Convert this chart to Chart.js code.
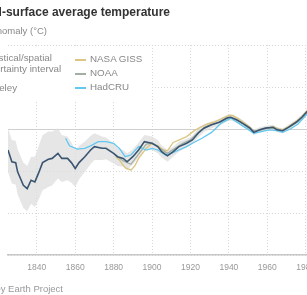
<!DOCTYPE html>
<html>
<head>
<meta charset="utf-8">
<script src="https://cdn.jsdelivr.net/npm/chart.js@4/dist/chart.umd.min.js"></script>
<style>
  body { margin:0; width:307px; height:295px; overflow:hidden; background:#fff; position:relative;
         font-family:"Liberation Sans", Arial, sans-serif; }
  .txt { position:absolute; white-space:nowrap; }
  #title { right:137px; top:5px; font-size:12px; font-weight:bold; color:#333; }
  #subtitle { right:260px; top:25px; font-size:9.5px; color:#888; }
  #source { right:244px; top:283px; font-size:9.5px; color:#999; }
  #wrap { position:absolute; left:0; top:0; width:400px; height:295px; }
  #legend { position:absolute; left:0; top:47px; width:152px; height:54px; background:#fff; font-size:9.8px; color:#888; }
  .item { position:absolute; white-space:nowrap; line-height:10.5px; }
  .sw { position:absolute; height:2px; width:11px; }
</style>
</head>
<body>
<div id="wrap"><canvas id="chart"></canvas></div>
<div class="txt" id="title">Land-surface average temperature</div>
<div class="txt" id="subtitle">Temperature anomaly (°C)</div>
<div id="legend"></div>
<div class="txt" id="source">Source: Berkeley Earth Project</div>
<script>
// Berkeley Earth (10-yr smoothed land anomaly) and its uncertainty half-width
const berkeleyYears = [1825,1827,1829,1830,1833,1835,1837,1839,1841,1843,1846,1848,1851,1853,1856,1858,1860,1862,1865,1868,1870,1874,1876,1880,1882,1885,1887,1890,1893,1896,1900,1903,1905,1908,1911,1914,1918,1921,1924,1927,1931,1935,1939,1941,1944,1947,1951,1953,1956,1959,1963,1965,1968,1971,1975,1978,1980,1984,1988];
const berkeleyTemp = [-0.25,-0.39,-0.40,-0.51,-0.67,-0.71,-0.61,-0.63,-0.52,-0.40,-0.36,-0.35,-0.29,-0.35,-0.35,-0.40,-0.47,-0.40,-0.33,-0.25,-0.21,-0.23,-0.23,-0.29,-0.33,-0.35,-0.39,-0.33,-0.25,-0.15,-0.17,-0.21,-0.27,-0.32,-0.27,-0.21,-0.17,-0.13,-0.05,0.01,0.05,0.08,0.13,0.14,0.11,0.07,0.01,-0.04,-0.01,0.01,0.02,-0.01,-0.02,0.02,0.08,0.14,0.19,0.28,0.35];
const berkeleyUnc = [.26,.26,.26,.27,.27,.27,.28,.3,.32,.33,.33,.32,.3,.28,.26,.24,.22,.2,.18,.17,.16,.14,.13,.12,.11,.1,.1,.09,.09,.08,.08,.08,.07,.07,.06,.06,.05,.05,.05,.05,.04,.04,.04,.04,.04,.04,.03,.03,.03,.03,.03,.03,.03,.03,.03,.03,.03,.03,.03];

const nasaYears = [1881,1883,1886,1889,1891,1893,1897,1900,1903,1906,1908,1911,1915,1918,1922,1925,1929,1932,1936,1940,1942,1945,1948,1951,1953,1956,1960,1963,1966,1968,1971,1975,1978,1980,1984,1988];
const nasaTemp = [-0.33,-0.37,-0.46,-0.49,-0.44,-0.35,-0.23,-0.17,-0.20,-0.25,-0.26,-0.16,-0.12,-0.09,-0.02,0.02,0.06,0.08,0.12,0.16,0.16,0.12,0.07,0.02,-0.03,-0.01,0.01,0.03,0.0,-0.01,0.03,0.09,0.15,0.20,0.28,0.34];

const noaaYears = [1881,1885,1889,1893,1897,1900,1904,1908,1912,1916,1920,1924,1928,1932,1936,1940,1944,1948,1952,1956,1960,1964,1968,1972,1976,1980,1984,1988];
const noaaTemp = [-0.31,-0.38,-0.42,-0.30,-0.18,-0.17,-0.23,-0.29,-0.23,-0.17,-0.13,-0.04,0.03,0.06,0.09,0.14,0.11,0.05,-0.02,-0.02,0.01,0.01,-0.02,0.03,0.09,0.18,0.27,0.34];

const hadYears = [1855,1857,1861,1865,1868,1872,1876,1880,1883,1886,1889,1893,1897,1900,1903,1907,1910,1914,1918,1921,1926,1931,1936,1941,1945,1949,1953,1957,1961,1965,1968,1972,1976,1980,1984,1988];
const hadTemp = [-0.11,-0.20,-0.24,-0.23,-0.20,-0.15,-0.15,-0.17,-0.23,-0.33,-0.31,-0.21,-0.25,-0.23,-0.25,-0.31,-0.29,-0.25,-0.21,-0.17,-0.11,-0.04,0.07,0.13,0.07,0.01,-0.05,-0.03,-0.01,-0.02,-0.04,0.0,0.06,0.16,0.26,0.32];

const yearTicks = [1840,1860,1880,1900,1920,1940,1960,1980,2000,2020];

const BERKELEY = '#3a5570', NASA = '#dcc684', NOAA = '#a4aea4', HAD = '#62c8f0';

function pts(xs, ys) { return xs.map((x, i) => ({x: x, y: ys[i]})); }
// lower "order" draws on top
function line(label, xs, ys, color, w, order) {
    return { label, order, data: pts(xs, ys), borderColor: color, borderWidth: w, pointRadius: 0, tension: 0, fill: false };
}

const upper = berkeleyTemp.map((v, i) => v + berkeleyUnc[i]);
const lower = berkeleyTemp.map((v, i) => v - berkeleyUnc[i]);

new Chart(document.getElementById('chart').getContext('2d'), {
    type: 'line',
    data: {
        datasets: [
            { label: 'upper', order: 10, data: pts(berkeleyYears, upper), borderColor: 'transparent', borderWidth: 1, pointRadius: 0, backgroundColor: 'rgba(222,222,222,0.75)', fill: '+1' },
            { label: 'lower', order: 11, data: pts(berkeleyYears, lower), borderColor: 'transparent', borderWidth: 1, pointRadius: 0, fill: false },
            line('NASA GISS', nasaYears, nasaTemp, NASA, 1.4, 4),
            line('NOAA', noaaYears, noaaTemp, NOAA, 1.3, 3),
            line('HadCRU', hadYears, hadTemp, HAD, 1.3, 2),
            line('Berkeley', berkeleyYears, berkeleyTemp, BERKELEY, 1.6, 1)
        ]
    },
    options: {
        responsive: true,
        maintainAspectRatio: false,
        animation: false,
        layout: { padding: { top: 45, left: 8, right: 0, bottom: 0 } },
        plugins: { legend: { display: false }, title: { display: false }, tooltip: { enabled: false } },
        scales: {
            x: {
                type: 'linear',
                min: 1825,
                max: 2028,
                afterBuildTicks: s => { s.ticks = yearTicks.map(v => ({value: v})); },
                afterFit: s => { s.height = 40; },
                grid: { color: '#d8d8d8', lineWidth: 1, drawTicks: false },
                border: { display: true, color: '#c8c8c8', width: 1.5, dash: [1, 2] },
                ticks: { padding: 8, color: '#999', font: { size: 8.5, family: '"Liberation Sans", Arial, sans-serif' },
                         callback: v => String(v) }
            },
            y: {
                min: -1.5,
                max: 1.0,
                ticks: { display: false, stepSize: 0.5 },
                afterFit: s => { s.width = 0; },
                grid: { color: ctx => ctx.tick && ctx.tick.value === 0 ? '#cfcfcf' : '#d8d8d8', drawTicks: false },
                border: { display: false, dash: ctx => ctx.tick && ctx.tick.value === 0 ? [] : [1, 2] }
            }
        }
    }
});

// legend in two columns over a white box
const legendItems = [
    { text: 'Statistical/spatial<br>uncertainty interval', x: -21, y: 6, swatch: 'band' },
    { text: 'Berkeley', x: -21, y: 36, swatch: BERKELEY },
    { text: 'NASA GISS', x: 90, y: 7, swatch: NASA },
    { text: 'NOAA', x: 90, y: 21, swatch: NOAA },
    { text: 'HadCRU', x: 90, y: 35, swatch: HAD }
];
const legend = document.getElementById('legend');
legendItems.forEach(it => {
    const sw = it.swatch === 'band'
        ? `<div class="sw" style="left:${it.x - 16}px;top:${it.y + 2}px;height:8px;background:#ddd"></div>`
        : `<div class="sw" style="left:${it.x - 15}px;top:${it.y + 5}px;background:${it.swatch}"></div>`;
    legend.innerHTML += sw + `<div class="item" style="left:${it.x}px;top:${it.y}px">${it.text}</div>`;
});
</script>
</body>
</html>
